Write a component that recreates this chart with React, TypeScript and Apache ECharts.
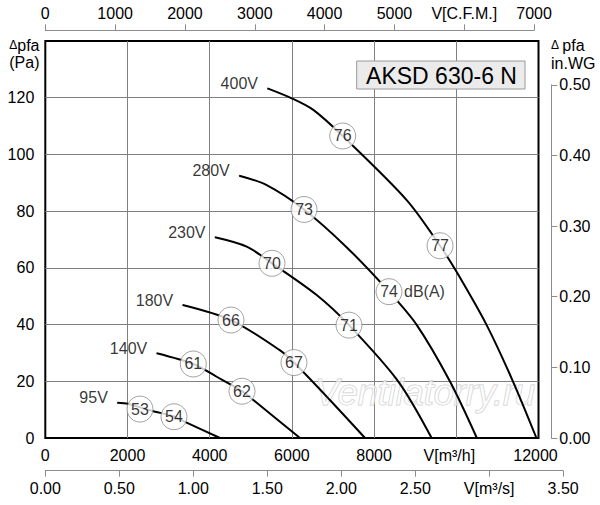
import { useEffect, useRef } from "react";
import * as echarts from "echarts";

const FONT = '"Liberation Sans", Arial, Helvetica, sans-serif';

// fan curves, [m³/h, Pa]
const voltageLabels = ["400V", "280V", "230V", "180V", "140V", "95V"];
const curve400V = [
  [5406, 123.3], [5995, 119.8], [6521, 115.7], [7236, 106.5], [8793, 83.9],
  [9604, 67.8], [10010, 58.5], [10739, 39.8], [11380, 19.9], [11950, 0],
];
const curve280V = [
  [4720, 92.5], [5387, 89.2], [6295, 80.6], [7330, 67.3], [8363, 51.6],
  [9040, 39.8], [9847, 19.9], [10500, 0],
];
const curve230V = [
  [4129, 70.8], [4900, 67.5], [5516, 61.6], [6603, 50.4], [7389, 39.8],
  [8590, 19.9], [9400, 0],
];
const curve180V = [
  [3343, 46.9], [4518, 41.6], [5704, 31.0], [6051, 26.6], [6924, 13.4], [7779, 0],
];
const curve140V = [
  [2711, 29.9], [3601, 26.1], [4170, 21.6], [4786, 16.5], [5061, 13.4], [6197, 0],
];
const curve95V = [
  [1752, 12.4], [2020, 12.0], [2589, 9.6], [3131, 7.6], [3399, 5.7], [4251, 0],
];
const curves = [curve400V, curve280V, curve230V, curve180V, curve140V, curve95V];

// sound level markers, [m³/h, Pa, dB(A)]
const noisePoints = [
  [7236, 106.5, 76], [6295, 80.6, 73], [5516, 61.6, 70], [4518, 41.6, 66],
  [3601, 26.1, 61], [2304, 10.2, 53], [3131, 7.5, 54], [4786, 16.5, 62],
  [6051, 26.6, 67], [7389, 39.8, 71], [8363, 51.6, 74], [9604, 67.8, 77],
];
const unitMarkerDb = 74;

// unit conversions for the secondary axes
const CFM_TO_M3H = 1.69901;
const M3S_TO_M3H = 3600;
const INWG_TO_PA = 249.089;

const FLOW_MAX = 12000;
const PA_MAX = 140;
const CFM_MAX = 7000;
const M3S_MAX = 3.5;
const INWG_MAX = 0.5;

const PLOT_LEFT = 45.3;
const PLOT_TOP = 41;
const PLOT_W = 493.2;
const PLOT_H = 397;

const textStyle = {
  fontFamily: FONT, fontSize: 16, color: "#000",
  textBorderWidth: 0, textShadowBlur: 0,
};
const thinAxis = { lineStyle: { color: "#8c8c8c", width: 1 } };

export default function App() {
  const chartRef = useRef<HTMLDivElement>(null);

  useEffect(() => {
    if (!chartRef.current) return;
    const chart = echarts.init(chartRef.current, undefined, { renderer: "svg" });

    const cfmW = (PLOT_W * CFM_MAX * CFM_TO_M3H) / FLOW_MAX;
    const m3sW = (PLOT_W * M3S_MAX * M3S_TO_M3H) / FLOW_MAX;
    const wgH = (PLOT_H * INWG_MAX * INWG_TO_PA) / PA_MAX;
    const plotBottom = PLOT_TOP + PLOT_H;

    const unitPoint = noisePoints.find((p) => p[2] === unitMarkerDb)!;

    const option: echarts.EChartsOption = {
      animation: false,
      grid: [
        {
          left: PLOT_LEFT, top: PLOT_TOP, width: PLOT_W, height: PLOT_H,
          show: true, borderColor: "#000", borderWidth: 2,
          backgroundColor: "transparent",
        },
        { left: PLOT_LEFT, top: 29.3, width: cfmW, height: 1 },
        { left: PLOT_LEFT, top: 469.7, width: m3sW, height: 1 },
        { left: 551.3, top: plotBottom - wgH, width: 1, height: wgH },
      ],
      xAxis: [
        {
          gridIndex: 0, type: "value", min: 0, max: FLOW_MAX, interval: 2000,
          axisLine: { show: false }, axisTick: { show: false },
          splitLine: {
            show: true, showMinLine: false, showMaxLine: false,
            lineStyle: { color: "#808080", width: 1 },
          },
          axisLabel: {
            ...textStyle, margin: 9,
            formatter: (v: number) =>
              v === 10000 ? "{u|V[m³/h]}" : v === 12000 ? "{e|12000}" : String(v),
            rich: {
              u: { ...textStyle, padding: [0, 14, 0, 0] },
              e: { ...textStyle, padding: [0, 6, 0, 0] },
            },
          },
        },
        {
          gridIndex: 1, type: "value", position: "top",
          min: 0, max: CFM_MAX, interval: 1000,
          axisLine: { show: true, ...thinAxis },
          axisTick: { show: true, length: 6, ...thinAxis },
          splitLine: { show: false },
          axisLabel: {
            ...textStyle, margin: 8,
            formatter: (v: number) => (v === 6000 ? "V[C.F.M.]" : String(v)),
          },
        },
        {
          gridIndex: 2, type: "value", position: "bottom",
          min: 0, max: M3S_MAX, interval: 0.5,
          axisLine: { show: true, ...thinAxis },
          axisTick: { show: true, length: 6, ...thinAxis },
          splitLine: { show: false },
          axisLabel: {
            ...textStyle, margin: 10,
            formatter: (v: number) => (v === 3 ? "V[m³/s]" : v.toFixed(2)),
          },
        },
        { gridIndex: 3, type: "value", show: false, min: 0, max: 1 },
      ],
      yAxis: [
        {
          gridIndex: 0, type: "value", min: 0, max: PA_MAX, interval: 20,
          axisLine: { show: false }, axisTick: { show: false },
          splitLine: {
            show: true, showMinLine: false, showMaxLine: false,
            lineStyle: { color: "#808080", width: 1 },
          },
          axisLabel: {
            ...textStyle, margin: 11,
            formatter: (v: number) => (v === PA_MAX ? "" : String(v)),
          },
        },
        { gridIndex: 1, type: "value", show: false, min: 0, max: 1 },
        { gridIndex: 2, type: "value", show: false, min: 0, max: 1 },
        {
          gridIndex: 3, type: "value", position: "right",
          min: 0, max: INWG_MAX, interval: 0.1,
          axisLine: { show: true, ...thinAxis },
          axisTick: { show: true, length: 6, ...thinAxis },
          splitLine: { show: false },
          axisLabel: {
            ...textStyle, margin: 7,
            formatter: (v: number) => v.toFixed(2),
          },
        },
      ],
      series: [
        ...curves.map((data, i) => ({
          name: voltageLabels[i],
          type: "line" as const,
          xAxisIndex: 0, yAxisIndex: 0,
          data,
          showSymbol: false,
          smooth: 0.3,
          silent: true,
          lineStyle: { color: "#000", width: 2 },
          z: 2,
        })),
        {
          type: "scatter",
          xAxisIndex: 0, yAxisIndex: 0,
          data: curves.map((c, i) => ({ value: c[0], name: voltageLabels[i] })),
          symbolSize: 1,
          itemStyle: { color: "#000" },
          silent: true,
          label: {
            show: true, position: "left", distance: 9, offset: [0, -5],
            formatter: "{b}", ...textStyle,
          },
          z: 3,
        },
        {
          type: "scatter",
          xAxisIndex: 0, yAxisIndex: 0,
          data: [unitPoint],
          symbolSize: 26,
          itemStyle: { color: "#fff" },
          silent: true,
          label: {
            show: true, position: "right", distance: 2,
            formatter: "dB(A)", ...textStyle,
          },
          z: 3,
        },
        {
          type: "scatter",
          xAxisIndex: 0, yAxisIndex: 0,
          data: noisePoints,
          symbolSize: 26,
          itemStyle: { color: "#fff", borderColor: "#8c8c8c", borderWidth: 1 },
          silent: true,
          label: {
            show: true, position: "inside",
            formatter: (p: any) => String(p.value[2]),
            ...textStyle,
          },
          z: 4,
        },
      ],
      graphic: [
        {
          type: "text", x: 425, y: 392, z: 1, silent: true,
          style: {
            text: "Ventilatorry.ru", fontFamily: FONT, fontSize: 36,
            fontStyle: "italic", fill: "rgba(255,255,255,0.6)",
            stroke: "#cccccc", lineWidth: 1,
            align: "center", verticalAlign: "middle",
          },
        },
        {
          type: "rect", z: 10, silent: true,
          shape: { x: 356.7, y: 61, width: 168.3, height: 28 },
          style: { fill: "#ebebeb", stroke: "#9a9a9a", lineWidth: 1 },
        },
        {
          type: "text", x: 441.5, y: 75.5, z: 11, silent: true,
          style: {
            text: "AKSD 630-6 N", fontFamily: FONT, fontSize: 23, fill: "#000",
            align: "center", verticalAlign: "middle",
          },
        },
        {
          type: "text", x: 39.5, y: 45, silent: true,
          style: {
            text: "{d|Δ}{t|pfa}", fill: "#000",
            align: "right", verticalAlign: "middle",
            rich: {
              d: { fontFamily: FONT, fontSize: 12, fill: "#000" },
              t: { fontFamily: FONT, fontSize: 16, fill: "#000" },
            },
          },
        },
        {
          type: "text", x: 39.5, y: 62, silent: true,
          style: {
            text: "(Pa)", fontFamily: FONT, fontSize: 16, fill: "#000",
            align: "right", verticalAlign: "middle",
          },
        },
        {
          type: "text", x: 551, y: 45, silent: true,
          style: {
            text: "{d|Δ} {t|pfa}", fill: "#000",
            align: "left", verticalAlign: "middle",
            rich: {
              d: { fontFamily: FONT, fontSize: 12, fill: "#000" },
              t: { fontFamily: FONT, fontSize: 16, fill: "#000" },
            },
          },
        },
        {
          type: "text", x: 551, y: 63, silent: true,
          style: {
            text: "in.WG", fontFamily: FONT, fontSize: 16, fill: "#000",
            align: "left", verticalAlign: "middle",
          },
        },
      ],
    };

    chart.setOption(option);

    return () => {
      chart.dispose();
    };
  }, []);

  return (
    <div
      ref={chartRef}
      style={{ position: "absolute", left: 0, top: 0, width: 600, height: 505 }}
    />
  );
}
